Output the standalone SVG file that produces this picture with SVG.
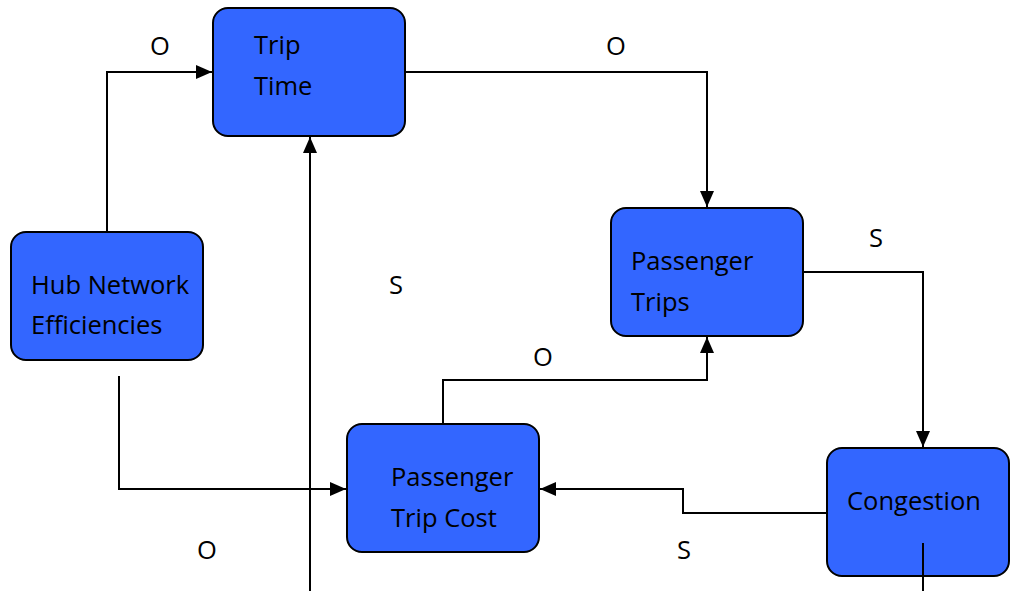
<svg xmlns="http://www.w3.org/2000/svg" width="1010" height="591" viewBox="0 0 1010 591">
  <style>
    .box { fill: #3366ff; stroke: #000; stroke-width: 2; }
    .lbl { font-family: "Open Sans", "Liberation Sans", sans-serif; font-size: 25.5px; fill: #000; }
    .wire { fill: none; stroke: #000; stroke-width: 2; }
  </style>
  <defs>
    <marker id="arrow" viewBox="0 0 16 14" refX="16" refY="7" markerWidth="16" markerHeight="14" markerUnits="userSpaceOnUse" orient="auto">
      <path d="M0,0 L16,7 L0,14 Z" fill="#000"/>
    </marker>
  </defs>
  <rect width="1010" height="591" fill="#fff"/>

  <g id="trip-time">
    <rect class="box" x="213" y="8" width="192" height="128" rx="15"/>
    <text class="lbl" x="254" y="54">Trip</text>
    <text class="lbl" x="254" y="95">Time</text>
  </g>
  <g id="hub-network-efficiencies">
    <rect class="box" x="11" y="232" width="192" height="128" rx="15"/>
    <text class="lbl" x="31" y="294">Hub Network</text>
    <text class="lbl" x="31" y="334">Efficiencies</text>
  </g>
  <g id="passenger-trips">
    <rect class="box" x="611" y="208" width="192" height="128" rx="15"/>
    <text class="lbl" x="631" y="270">Passenger</text>
    <text class="lbl" x="631" y="311">Trips</text>
  </g>
  <g id="passenger-trip-cost">
    <rect class="box" x="347" y="424" width="192" height="128" rx="15"/>
    <text class="lbl" x="391" y="486">Passenger</text>
    <text class="lbl" x="391" y="527">Trip Cost</text>
  </g>
  <g id="congestion">
    <rect class="box" x="827" y="448" width="182" height="128" rx="15"/>
    <text class="lbl" x="847" y="510">Congestion</text>
  </g>

  <g id="connectors">
    <path class="wire" d="M107,232 V72 H212" marker-end="url(#arrow)"/>
    <path class="wire" d="M405,72 H707 V207" marker-end="url(#arrow)"/>
    <path class="wire" d="M803,272 H923 V447" marker-end="url(#arrow)"/>
    <path class="wire" d="M827,513 H683 V489 H540" marker-end="url(#arrow)"/>
    <path class="wire" d="M443,424 V380 H707 V337" marker-end="url(#arrow)"/>
    <path class="wire" d="M119,376 V489 H346" marker-end="url(#arrow)"/>
    <path class="wire" d="M310,591 V137" marker-end="url(#arrow)"/>
    <path class="wire" d="M923,543 V591"/>
    <text class="lbl" x="150" y="55">O</text>
    <text class="lbl" x="606" y="55">O</text>
    <text class="lbl" x="869" y="247">S</text>
    <text class="lbl" x="389" y="294">S</text>
    <text class="lbl" x="533" y="366">O</text>
    <text class="lbl" x="197" y="559">O</text>
    <text class="lbl" x="677" y="559">S</text>
  </g>
</svg>
